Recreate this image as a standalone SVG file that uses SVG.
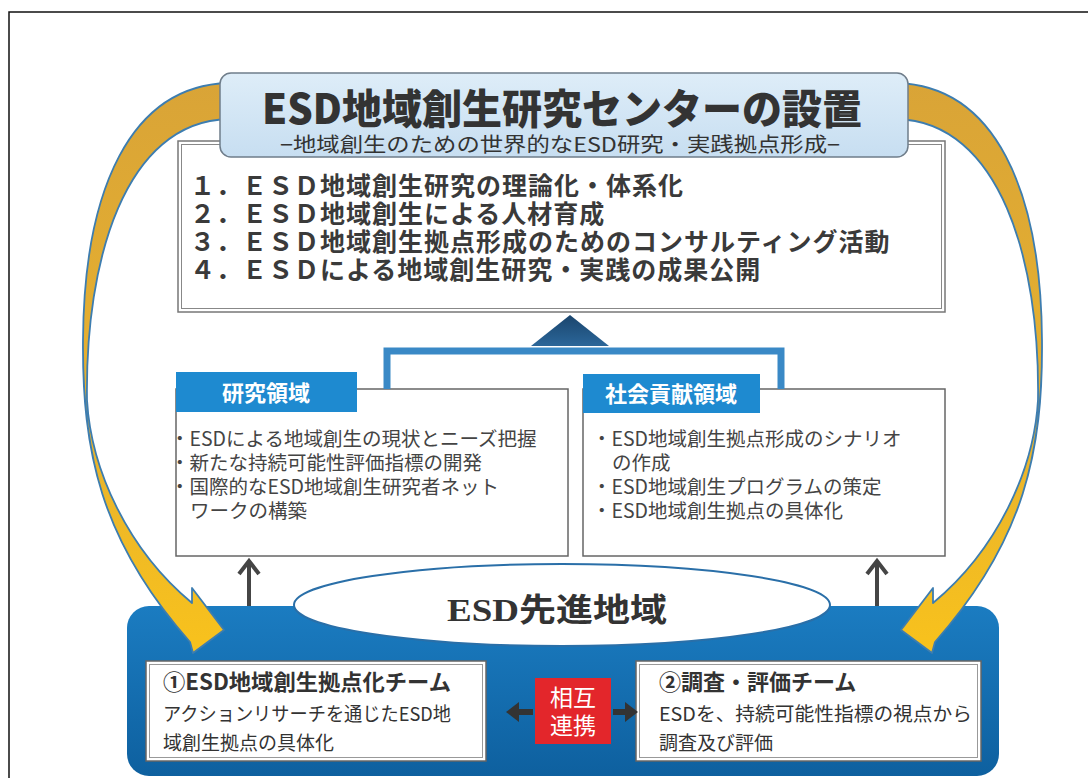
<svg xmlns="http://www.w3.org/2000/svg" width="1088" height="778" viewBox="0 0 1088 778">
<defs>
<linearGradient id="gTitle" x1="0" y1="0" x2="0" y2="1"><stop offset="0" stop-color="#deedf8"/><stop offset="1" stop-color="#c7def1"/></linearGradient>
<linearGradient id="gBand" x1="0" y1="0" x2="0" y2="1"><stop offset="0" stop-color="#d9a437"/><stop offset="0.6" stop-color="#e8b22e"/><stop offset="1" stop-color="#f8c21c"/></linearGradient>
<linearGradient id="gBlue" x1="0" y1="0" x2="0" y2="1"><stop offset="0" stop-color="#1b7cc1"/><stop offset="1" stop-color="#0e609f"/></linearGradient>
<linearGradient id="gTri" x1="0" y1="0" x2="0" y2="1"><stop offset="0" stop-color="#1a456d"/><stop offset="1" stop-color="#2b6699"/></linearGradient>
</defs>
<style>
.jp{font-family:"Noto Sans CJK JP","Noto Sans",sans-serif}
.list{font-size:25px;font-weight:bold;fill:#3a3a3a;letter-spacing:1px}
.bul{font-size:19.5px;fill:#444}
.tab{font-size:22px;font-weight:bold;fill:#fff}
.tbox{fill:#fff;stroke:#666;stroke-width:1.5}
.tt{font-size:22px;font-weight:bold;fill:#333}
.ts{font-size:19px;fill:#333}
.band{fill:url(#gBand);stroke:#3d7db0;stroke-width:1.8;stroke-linejoin:round}
.up{stroke:#454545;stroke-width:4;fill:none}
</style>
<rect x="0" y="0" width="1088" height="778" fill="#fff"/>
<rect x="9" y="12" width="1200" height="900" fill="none" stroke="#111" stroke-width="1.5"/>

<g id="content-box">
<rect x="178" y="141" width="767" height="171" fill="#fff" stroke="#777" stroke-width="1.5"/>
<rect x="181.5" y="144.5" width="760" height="164" fill="none" stroke="#888" stroke-width="1"/>
<text class="jp list" x="190" y="195">１．ＥＳＤ地域創生研究の理論化・体系化</text>
<text class="jp list" x="190" y="223">２．ＥＳＤ地域創生による人材育成</text>
<text class="jp list" x="190" y="251">３．ＥＳＤ地域創生拠点形成のためのコンサルティング活動</text>
<text class="jp list" x="190" y="279">４．ＥＳＤによる地域創生研究・実践の成果公開</text>
</g>

<g id="research">
<rect x="176" y="389" width="392" height="167" fill="#fff" stroke="#666" stroke-width="1.5"/>
<rect x="176" y="372" width="181" height="40" fill="#1e8ad0"/>
<text class="jp tab" x="266" y="401" text-anchor="middle">研究領域</text>
<text class="jp bul" x="170" y="446">・ESDによる地域創生の現状とニーズ把握</text>
<text class="jp bul" x="170" y="470">・新たな持続可能性評価指標の開発</text>
<text class="jp bul" x="170" y="494">・国際的なESD地域創生研究者ネット</text>
<text class="jp bul" x="190" y="518">ワークの構築</text>
</g>

<g id="social">
<rect x="583" y="389" width="362" height="167" fill="#fff" stroke="#666" stroke-width="1.5"/>
<rect x="583" y="374" width="177" height="39" fill="#1e8ad0"/>
<text class="jp tab" x="671" y="402" text-anchor="middle">社会貢献領域</text>
<text class="jp bul" x="592" y="446">・ESD地域創生拠点形成のシナリオ</text>
<text class="jp bul" x="612" y="470">の作成</text>
<text class="jp bul" x="592" y="494">・ESD地域創生プログラムの策定</text>
<text class="jp bul" x="592" y="518">・ESD地域創生拠点の具体化</text>
</g>

<g id="region">
<rect x="127" y="606" width="872" height="170" rx="22" fill="url(#gBlue)"/>
</g>

<g id="esd-area">
<ellipse cx="562" cy="605" rx="268" ry="41" fill="#fff" stroke="#2a6fa8" stroke-width="2"/>
<text x="447" y="621" textLength="220" lengthAdjust="spacingAndGlyphs" style="font-family:'Liberation Serif','Noto Sans CJK JP',serif;font-size:32px;font-weight:bold;fill:#333">ESD先進地域</text>
</g>

<g id="team1">
<rect class="tbox" x="146" y="661" width="340" height="100"/>
<rect x="149.5" y="664.5" width="333" height="93" fill="none" stroke="#999" stroke-width="1"/>
<text class="jp tt" x="163" y="690" textLength="288" lengthAdjust="spacingAndGlyphs">①ESD地域創生拠点化チーム</text>
<text class="jp ts" x="163" y="721" textLength="288" lengthAdjust="spacingAndGlyphs">アクションリサーチを通じたESD地</text>
<text class="jp ts" x="163" y="750">域創生拠点の具体化</text>
</g>

<g id="team2">
<rect class="tbox" x="636" y="661" width="345" height="100"/>
<rect x="639.5" y="664.5" width="338" height="93" fill="none" stroke="#999" stroke-width="1"/>
<text class="jp tt" x="659" y="690">②調査・評価チーム</text>
<text class="jp ts" x="659" y="721" textLength="313" lengthAdjust="spacingAndGlyphs">ESDを、持続可能性指標の視点から</text>
<text class="jp ts" x="659" y="750">調査及び評価</text>
</g>

<g id="mutual">
<rect x="535" y="678" width="76" height="66" fill="#e3262b"/>
<text class="jp" x="573" y="706" text-anchor="middle" style="font-size:23px;fill:#fff">相互</text>
<text class="jp" x="573" y="734" text-anchor="middle" style="font-size:23px;fill:#fff">連携</text>
</g>

<g id="connectors">
<path d="M387,389 V351 H781 V389" fill="none" stroke="#3a89c6" stroke-width="7"/>
<polygon points="570,315 531,346 609,346" fill="url(#gTri)"/>
<line class="up" x1="249" y1="606" x2="249" y2="562"/>
<polyline class="up" points="239,574 249,561 259,574"/>
<line class="up" x1="877" y1="606" x2="877" y2="562"/>
<polyline class="up" points="867,574 877,561 887,574"/>
<line x1="533" y1="712" x2="516" y2="712" stroke="#333" stroke-width="6"/>
<polygon points="506,712 519,702 519,722" fill="#333"/>
<line x1="613" y1="712" x2="628" y2="712" stroke="#333" stroke-width="6"/>
<polygon points="638,712 625,702 625,722" fill="#333"/>
<path class="band" d="M228,83 C130,86 84,190 83,340 C82,450 100,540 190,642 L193,653 L224,630 L192,588 L192,603 C128,550 91,470 87,400 C85,260 125,122 228,119 Z"/>
<path class="band" d="M897,83 C995,86 1041,190 1042,340 C1043,450 1025,540 935,642 L932,653 L901,630 L933,588 L933,603 C997,550 1034,470 1038,400 C1040,260 1000,122 897,119 Z"/>
</g>

<g id="title">
<rect x="220" y="73" width="688" height="84" rx="11" fill="url(#gTitle)" stroke="#6f7d8a" stroke-width="1.5"/>
<text class="jp" x="262" y="124" textLength="600" lengthAdjust="spacingAndGlyphs" style="font-size:41px;font-weight:900;fill:#333">ESD地域創生研究センターの設置</text>
<text class="jp" x="280" y="152" textLength="560" lengthAdjust="spacingAndGlyphs" style="font-size:20px;fill:#333">−地域創生のための世界的なESD研究・実践拠点形成−</text>
</g>
</svg>
